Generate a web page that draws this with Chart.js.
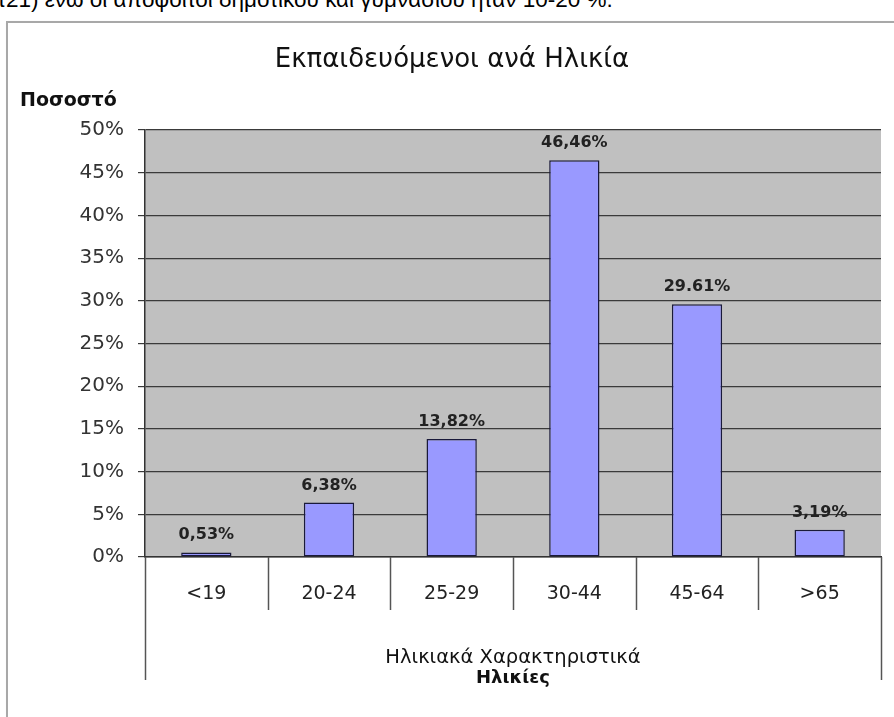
<!DOCTYPE html>
<html>
<head>
<meta charset="utf-8">
<script src="https://cdn.jsdelivr.net/npm/chart.js@4"></script>
<style>
  html, body { margin: 0; padding: 0; background: #fff; overflow: hidden; }
  #topText {
    position: absolute; left: -3px; top: -13px; white-space: nowrap;
    font-family: "Liberation Sans", Arial, sans-serif; font-size: 22.5px; color: #000;
  }
  #frame {
    position: absolute; left: 6px; top: 21px; width: 1000px; height: 1000px;
    border: 2px solid #a8a8a8; box-shadow: 1px 1px 2px #ddd;
  }
  #wrap { position: absolute; left: 0; top: 0; width: 894px; height: 717px; }
</style>
</head>
<body>
<div id="topText">τ21) ενώ οι απόφοιτοι δημοτικού και γυμνασίου ήταν 10-20 %.</div>
<div id="frame"></div>
<div id="wrap"><canvas id="chart" width="894" height="717"></canvas></div>
<script>
document.addEventListener('DOMContentLoaded', function () {
    // δεδομένα
    const categories = ['<19', '20-24', '25-29', '30-44', '45-64', '>65'];
    const values = [0.53, 6.38, 13.82, 46.46, 29.61, 3.19];
    const valueLabels = ['0,53%', '6,38%', '13,82%', '46,46%', '29.61%', '3,19%'];
    const yTicks = [0, 5, 10, 15, 20, 25, 30, 35, 40, 45, 50];

    const FONT = '"DejaVu Sans", "Liberation Sans", Arial, sans-serif';

    // γκρι φόντο στην περιοχή του γραφήματος
    const plotBg = {
        id: 'plotBg',
        beforeDraw(chart) {
            const a = chart.chartArea, c = chart.ctx;
            c.save();
            c.fillStyle = '#c0c0c0';
            c.fillRect(a.left, a.top, a.right - a.left, a.bottom - a.top);
            c.restore();
        }
    };

    // ετικέτες τιμών, διαχωριστικά κατηγοριών, τίτλοι αξόνων
    const extras = {
        id: 'extras',
        afterDraw(chart) {
            const c = chart.ctx, a = chart.chartArea;
            const xs = chart.scales.x;
            const meta = chart.getDatasetMeta(0);

            c.save();
            c.fillStyle = '#222';
            c.font = 'bold 16px ' + FONT;
            c.textAlign = 'center';
            c.textBaseline = 'alphabetic';
            meta.data.forEach(function (bar, i) {
                c.fillText(valueLabels[i], bar.x, bar.y - 13);
            });

            // γραμμές κάτω από τον άξονα x
            const half = (xs.getPixelForValue(1) - xs.getPixelForValue(0)) / 2;
            c.strokeStyle = '#555';
            c.lineWidth = 1.5;
            for (let i = 0; i <= categories.length; i++) {
                const x = i < categories.length ? xs.getPixelForValue(i) - half
                                                : xs.getPixelForValue(i - 1) + half;
                const outer = (i === 0 || i === categories.length);
                c.beginPath();
                c.moveTo(Math.round(x) + 0.5, a.bottom);
                c.lineTo(Math.round(x) + 0.5, a.bottom + (outer ? 123 : 53));
                c.stroke();
            }

            const cx = (a.left + a.right) / 2;
            c.fillStyle = '#111';
            c.font = '19.5px ' + FONT;
            c.textBaseline = 'middle';
            c.fillText('Ηλικιακά Χαρακτηριστικά', cx, a.bottom + 101);
            c.font = 'bold 18px ' + FONT;
            c.fillText('Ηλικίες', cx, a.bottom + 121);

            c.textAlign = 'left';
            c.font = 'bold 19px ' + FONT;
            c.fillText('Ποσοστό', 20, 101);
            c.restore();
        }
    };

    new Chart(document.getElementById('chart'), {
        type: 'bar',
        data: {
            labels: categories,
            datasets: [{
                data: values,
                backgroundColor: '#9999ff',
                borderColor: '#1a1a3a',
                borderWidth: 1.5,
                borderSkipped: false,
                barPercentage: 0.41,
                categoryPercentage: 1
            }]
        },
        options: {
            responsive: false,
            animation: false,
            layout: { padding: { left: 23, right: 13, top: 0, bottom: 0 } },
            plugins: {
                legend: { display: false },
                tooltip: { enabled: false },
                title: {
                    display: true,
                    text: 'Εκπαιδευόμενοι ανά Ηλικία',
                    color: '#111',
                    font: { family: FONT, size: 26, weight: 'normal' },
                    padding: { top: 45, bottom: 53.8 }
                }
            },
            scales: {
                x: {
                    grid: { display: false },
                    border: { display: true, color: '#333', width: 1.5 },
                    ticks: { color: '#222', padding: 18, font: { family: FONT, size: 19 } },
                    afterFit(scale) { scale.height = 160; }
                },
                y: {
                    min: 0,
                    max: 50,
                    afterBuildTicks(scale) { scale.ticks = yTicks.map(v => ({ value: v })); },
                    grid: { color: '#3a3a3a', lineWidth: 1.2, tickLength: 7, drawTicks: true },
                    border: { display: true, color: '#333', width: 1.5 },
                    ticks: {
                        color: '#333',
                        padding: 14,
                        font: { family: FONT, size: 20 },
                        callback: v => v + '%'
                    },
                    afterFit(scale) { scale.width = 122; }
                }
            }
        },
        plugins: [plotBg, extras]
    });
});
</script>
</body>
</html>
